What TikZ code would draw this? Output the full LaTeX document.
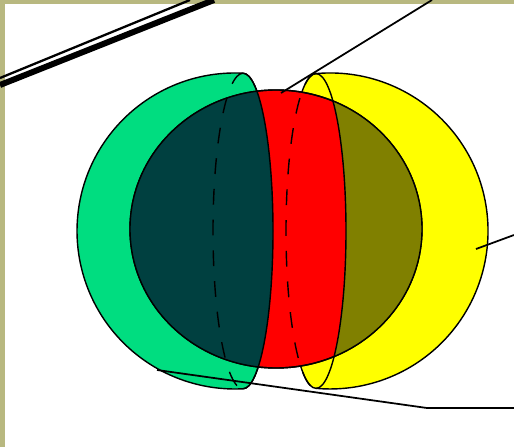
\documentclass[tikz,border=0pt]{standalone}
\usepackage{tikz}
\usetikzlibrary{calc}
\definecolor{capgreen}{RGB}{0,221,128}
\definecolor{capyellow}{RGB}{255,255,0}
\definecolor{corered}{RGB}{255,0,0}
\definecolor{deepteal}{RGB}{0,64,64}
\definecolor{darkolive}{RGB}{128,128,0}
\definecolor{framekhaki}{RGB}{184,184,128}

\begin{document}
\begin{tikzpicture}[x=0.02cm,y=0.02cm,
  rim/.style={draw=black,line width=0.8pt},
  cut/.style={draw=black,line width=0.8pt,dash pattern=on 9pt off 8.5pt},
  lead/.style={draw=black,line width=1pt},
  greencap/.style={insert path={(243,373.8) arc[start angle=87.1,end angle=272.9,radius=158]
      arc[start angle=-90,end angle=90,x radius=30,y radius=157.8] -- cycle}},
  yellowcap/.style={insert path={(316,373.4) arc[start angle=95.1,end angle=-95.1,radius=158]
      arc[start angle=270,end angle=90,x radius=30,y radius=157.4] -- cycle}},
  olivecap/.style={insert path={(316,373.4) arc[start angle=95.1,end angle=-95.1,radius=158]
      arc[start angle=-90,end angle=90,x radius=30,y radius=157.4] -- cycle}},
  core/.style={insert path={(276,218) ellipse[x radius=146,y radius=139]}}
]
\useasboundingbox (0,0) rectangle (514,447);
% frame
\fill[framekhaki] (0,0) rectangle (5,447);
\fill[framekhaki] (0,443) rectangle (514,447);

% outer caps and core
\path[rim,fill=capgreen,greencap];
\path[rim,fill=capyellow,yellowcap];
\path[rim,fill=corered,core];

% overlaps inside the core
\begin{scope}
  \clip[core];
  \fill[deepteal,greencap];
  \fill[darkolive,olivecap];
\end{scope}

% cut circles
\draw[rim] (243,58.2) arc[start angle=-90,end angle=90,x radius=30,y radius=157.8];
\draw[rim] (316,58.6) arc[start angle=-90,end angle=90,x radius=30,y radius=157.4];
\draw[cut] (243,373.8) arc[start angle=90,end angle=270,x radius=30,y radius=157.8];
\draw[cut] (316,373.4) arc[start angle=90,end angle=270,x radius=30,y radius=157.4];
\path[rim,core];

% leaders
\coordinate (tl1) at (0,369);   \coordinate (tl1e) at (190,447);
\coordinate (tl2) at (0,362);   \coordinate (tl2e) at (214,447);
\coordinate (coretop) at (281,354);  \coordinate (coretope) at (432,447);
\coordinate (yelside) at (476,198);  \coordinate (yelsidee) at (514,212);
\coordinate (grnlow) at (157,77);    \coordinate (grnbend) at (427,39);
\coordinate (grnlowe) at (514,39);

\draw[line width=1.3pt] (tl1) -- (tl1e);
\draw[line width=3.4pt] (tl2) -- (tl2e);
\draw[lead] (coretop) -- (coretope);
\draw[lead] (yelside) -- (yelsidee);
\draw[lead] (grnlow) -- (grnbend) -- (grnlowe);
\end{tikzpicture}
\end{document}
